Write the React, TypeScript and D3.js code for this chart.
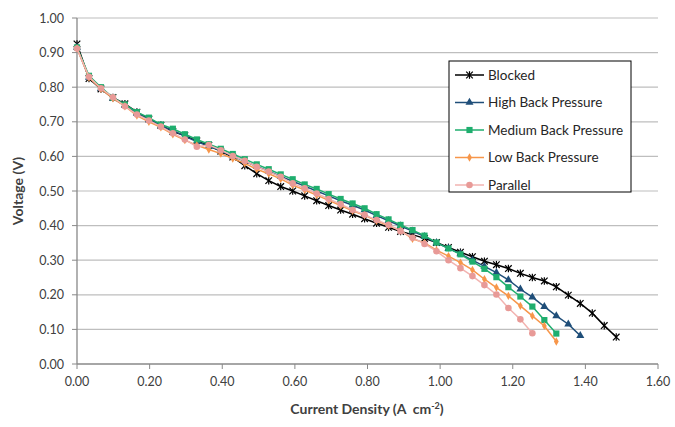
import React from "react";
import * as d3 from "d3";

// current density steps (A cm-2), shared by every series
const current = [
  0.000, 0.033, 0.066, 0.099, 0.132, 0.165, 0.198, 0.231, 0.264, 0.297,
  0.330, 0.363, 0.396, 0.429, 0.462, 0.495, 0.528, 0.561, 0.594, 0.627,
  0.660, 0.693, 0.726, 0.759, 0.792, 0.825, 0.858, 0.891, 0.924, 0.957,
  0.990, 1.023, 1.056, 1.089, 1.122, 1.155, 1.188, 1.221, 1.254, 1.287,
  1.320, 1.353, 1.386, 1.419, 1.452, 1.485,
];

const blocked = [
  0.925, 0.825, 0.795, 0.770, 0.752, 0.728, 0.708, 0.690, 0.672, 0.660,
  0.645, 0.632, 0.615, 0.598, 0.573, 0.550, 0.530, 0.513, 0.500, 0.486,
  0.472, 0.458, 0.445, 0.433, 0.420, 0.407, 0.395, 0.383, 0.374, 0.363,
  0.351, 0.337, 0.323, 0.310, 0.297, 0.287, 0.276, 0.262, 0.250, 0.240,
  0.223, 0.199, 0.175, 0.147, 0.111, 0.078,
];

const highBack = [
  0.915, 0.828, 0.796, 0.768, 0.747, 0.725, 0.707, 0.688, 0.675, 0.658,
  0.643, 0.629, 0.616, 0.601, 0.586, 0.571, 0.557, 0.542, 0.528, 0.514,
  0.500, 0.486, 0.472, 0.459, 0.445, 0.429, 0.414, 0.399, 0.384, 0.368,
  0.350, 0.334, 0.318, 0.300, 0.282, 0.264, 0.243, 0.216, 0.193, 0.166,
  0.139, 0.115, 0.082,
];

const mediumBack = [
  0.915, 0.833, 0.800, 0.770, 0.750, 0.728, 0.712, 0.692, 0.680, 0.664,
  0.649, 0.635, 0.622, 0.607, 0.592, 0.577, 0.563, 0.548, 0.534, 0.519,
  0.506, 0.491, 0.477, 0.464, 0.450, 0.433, 0.418, 0.402, 0.387, 0.371,
  0.351, 0.334, 0.317, 0.296, 0.275, 0.251, 0.222, 0.195, 0.166, 0.127,
  0.088,
];

const lowBack = [
  0.912, 0.828, 0.795, 0.768, 0.745, 0.718, 0.700, 0.684, 0.664, 0.647,
  0.632, 0.620, 0.608, 0.594, 0.580, 0.563, 0.550, 0.535, 0.517, 0.503,
  0.488, 0.473, 0.458, 0.443, 0.430, 0.414, 0.400, 0.386, 0.362, 0.350,
  0.329, 0.312, 0.293, 0.272, 0.245, 0.221, 0.197, 0.168, 0.139, 0.110,
  0.065,
];

const parallel = [
  0.912, 0.830, 0.797, 0.771, 0.745, 0.721, 0.704, 0.686, 0.667, 0.649,
  0.628, 0.633, 0.618, 0.601, 0.587, 0.570, 0.556, 0.541, 0.522, 0.508,
  0.493, 0.477, 0.462, 0.445, 0.431, 0.416, 0.402, 0.384, 0.365, 0.347,
  0.326, 0.300, 0.277, 0.254, 0.228, 0.201, 0.162, 0.129, 0.089,
];

const xTicks = [0, 0.2, 0.4, 0.6, 0.8, 1.0, 1.2, 1.4, 1.6];
const yTicks = [0, 0.1, 0.2, 0.3, 0.4, 0.5, 0.6, 0.7, 0.8, 0.9, 1.0];

const series = [
  { name: "Blocked", values: blocked, line: "#000000", mark: "#000000", shape: "star" },
  { name: "High Back Pressure", values: highBack, line: "#1F4E79", mark: "#1F4E79", shape: "triangle" },
  { name: "Medium Back Pressure", values: mediumBack, line: "#1FAE6E", mark: "#1FAE6E", shape: "square" },
  { name: "Low Back Pressure", values: lowBack, line: "#F7964A", mark: "#F7964A", shape: "diamond" },
  { name: "Parallel", values: parallel, line: "#F2B3B0", mark: "#E89A97", shape: "circle" },
];

const W = 675;
const H = 427;
const m = { left: 77, right: 658, top: 18, bottom: 364 };
const font = "Lato, 'Open Sans', sans-serif";

const Marker = ({ shape, x, y, color }) => {
  if (shape === "star") {
    const r = 3.3;
    return (
      <g stroke={color} strokeWidth={1.2}>
        <line x1={x - r} y1={y - r} x2={x + r} y2={y + r} />
        <line x1={x - r} y1={y + r} x2={x + r} y2={y - r} />
        <line x1={x} y1={y - r - 0.5} x2={x} y2={y + r + 0.5} />
      </g>
    );
  }
  const sym = {
    triangle: d3.symbol(d3.symbolTriangle, 28),
    square: d3.symbol(d3.symbolSquare, 38),
    diamond: d3.symbol(d3.symbolDiamond, 20),
    circle: d3.symbol(d3.symbolCircle, 34),
  }[shape];
  return <path d={sym()} transform={`translate(${x},${y})`} fill={color} />;
};

export default function App() {
  const x = d3.scaleLinear().domain([0, 1.6]).range([m.left, m.right]);
  const y = d3.scaleLinear().domain([0, 1.0]).range([m.bottom, m.top]);
  const line = d3
    .line<number>()
    .x((d, i) => x(current[i]))
    .y((d) => y(d));

  const legend = { x: 449, y: 61, w: 182, h: 131, row: 27.5 };

  return (
    <svg
      width={W}
      height={H}
      style={{ position: "absolute", left: 0, top: 0, background: "#fff" }}
      fontFamily={font}
    >
      {/* gridlines */}
      {yTicks.slice(1).map((t) => (
        <line key={t} x1={m.left} x2={m.right} y1={y(t)} y2={y(t)} stroke="#BEBEBE" strokeWidth={1.2} />
      ))}

      {/* axes */}
      <line x1={m.left} x2={m.left} y1={m.top} y2={m.bottom} stroke="#888" strokeWidth={1.3} />
      <line x1={m.left} x2={m.right} y1={m.bottom} y2={m.bottom} stroke="#888" strokeWidth={1.3} />
      {yTicks.map((t) => (
        <g key={t}>
          <line x1={m.left - 5} x2={m.left} y1={y(t)} y2={y(t)} stroke="#888" />
          <text x={m.left - 13} y={y(t) + 4.5} textAnchor="end" fontSize={12.5} fill="#404040">
            {t.toFixed(2)}
          </text>
        </g>
      ))}
      {xTicks.map((t) => (
        <g key={t}>
          <line x1={x(t)} x2={x(t)} y1={m.bottom} y2={m.bottom + 5} stroke="#888" />
          <text x={x(t)} y={m.bottom + 22} textAnchor="middle" fontSize={12.5} fill="#404040">
            {t.toFixed(2)}
          </text>
        </g>
      ))}

      {/* axis titles */}
      <text x={367} y={414} textAnchor="middle" fontSize={14} fontWeight="bold" fill="#404040">
        {"Current Density (A\u00A0 cm"}
        <tspan dy={-5} fontSize={9}>-2</tspan>
        <tspan dy={5}>)</tspan>
      </text>
      <text
        transform={`translate(23,${(m.top + m.bottom) / 2}) rotate(-90)`}
        textAnchor="middle"
        fontSize={14}
        fontWeight="bold"
        fill="#404040"
      >
        Voltage (V)
      </text>

      {/* series, drawn back to front so Parallel sits on top */}
      {series.map((s) => (
        <g key={s.name}>
          <path d={line(s.values) || ""} fill="none" stroke={s.line} strokeWidth={1.5} />
          {s.values.map((v, i) => (
            <Marker key={i} shape={s.shape} x={x(current[i])} y={y(v)} color={s.mark} />
          ))}
        </g>
      ))}

      {/* legend */}
      <rect x={legend.x} y={legend.y} width={legend.w} height={legend.h} fill="#fff" stroke="#000" strokeWidth={1} />
      {series.map((s, i) => {
        const cy = legend.y + 14 + i * legend.row;
        return (
          <g key={s.name}>
            <line x1={legend.x + 6} x2={legend.x + 35} y1={cy} y2={cy} stroke={s.line} strokeWidth={1.5} />
            <Marker shape={s.shape} x={legend.x + 20.5} y={cy} color={s.mark} />
            <text x={legend.x + 39} y={cy + 4.5} fontSize={13.5} fill="#262626">
              {s.name}
            </text>
          </g>
        );
      })}
    </svg>
  );
}
